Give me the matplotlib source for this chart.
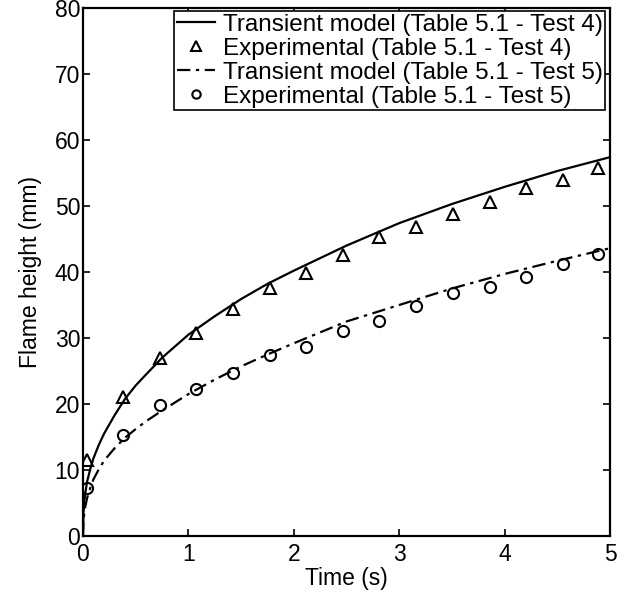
import matplotlib.pyplot as plt

plt.rcParams['font.family'] = ['Liberation Sans', 'DejaVu Sans']

# ---------- data ----------
t_exp = [0.04, 0.38, 0.73, 1.07, 1.42, 1.77, 2.12, 2.47, 2.81, 3.16, 3.51, 3.86, 4.20, 4.55, 4.89]
h_exp4 = [11.5, 21.0, 26.9, 30.7, 34.4, 37.5, 39.9, 42.6, 45.3, 46.8, 48.8, 50.6, 52.7, 54.0, 55.7]
h_exp5 = [7.3, 15.3, 19.9, 22.2, 24.7, 27.4, 28.6, 31.0, 32.6, 34.9, 36.8, 37.7, 39.3, 41.2, 42.8]

t_model = [0, 0.005, 0.01, 0.02, 0.04, 0.07, 0.1, 0.15, 0.2, 0.3, 0.4, 0.5, 0.6, 0.75,
           1.0, 1.25, 1.5, 1.75, 2.0, 2.5, 3.0, 3.5, 4.0, 4.5, 5.0]
h_model4 = [0, 3.6, 4.8, 6.3, 8.3, 10.2, 11.8, 13.8, 15.5, 18.3, 20.8, 22.8, 24.5, 27.0,
            30.5, 33.3, 35.9, 38.2, 40.2, 44.0, 47.4, 50.3, 52.9, 55.3, 57.4]
h_model5 = [0, 2.3, 3.1, 4.3, 5.8, 7.3, 8.6, 10.1, 11.4, 13.3, 14.9, 16.2, 17.4, 19.0,
            21.5, 23.7, 25.7, 27.5, 29.2, 32.5, 35.0, 37.5, 39.7, 41.7, 43.6]

labels = ['Transient model (Table 5.1 - Test 4)',
          'Experimental (Table 5.1 - Test 4)',
          'Transient model (Table 5.1 - Test 5)',
          'Experimental (Table 5.1 - Test 5)']

fig = plt.figure(figsize=(6.22, 5.98), dpi=100)
ax = fig.add_axes([0.1334, 0.1037, 0.8473, 0.8829])

ax.plot(t_model, h_model4, '-', color='black', lw=1.6, label=labels[0])
ax.plot(t_exp, h_exp4, '^', mfc='none', mec='black', mew=1.5, ms=9, ls='none', label=labels[1])
ax.plot(t_model, h_model5, color='black', lw=1.6, dashes=(6, 2.5, 1.5, 2.5), label=labels[2])
ax.plot(t_exp, h_exp5, 'o', mfc='none', mec='black', mew=1.5, ms=8, ls='none', label=labels[3])

ax.set_xlim(0, 5)
ax.set_ylim(0, 80)
ax.set_xticks(range(0, 6))
ax.set_yticks(range(0, 81, 10))
ax.tick_params(direction='in', top=True, right=True, length=5, width=1.2,
               labelsize=16.5)
ax.tick_params(axis='x', pad=5)
ax.tick_params(axis='y', pad=2)
for s in ax.spines.values():
    s.set_linewidth(1.6)

ax.set_xlabel('Time (s)', fontsize=16.5, labelpad=1)
ax.set_ylabel('Flame height (mm)', fontsize=16.5, labelpad=9)

leg = ax.legend(loc='upper right', bbox_to_anchor=(0.9905, 0.994), fontsize=17.5,
                frameon=True, fancybox=False, edgecolor='black', framealpha=1,
                borderpad=0.1, labelspacing=0.08, handlelength=1.6,
                handletextpad=0.3, borderaxespad=0, markerscale=0.75)
leg.get_frame().set_linewidth(1.2)

fig.savefig('out.png', dpi=100, facecolor='white')
plt.close()
